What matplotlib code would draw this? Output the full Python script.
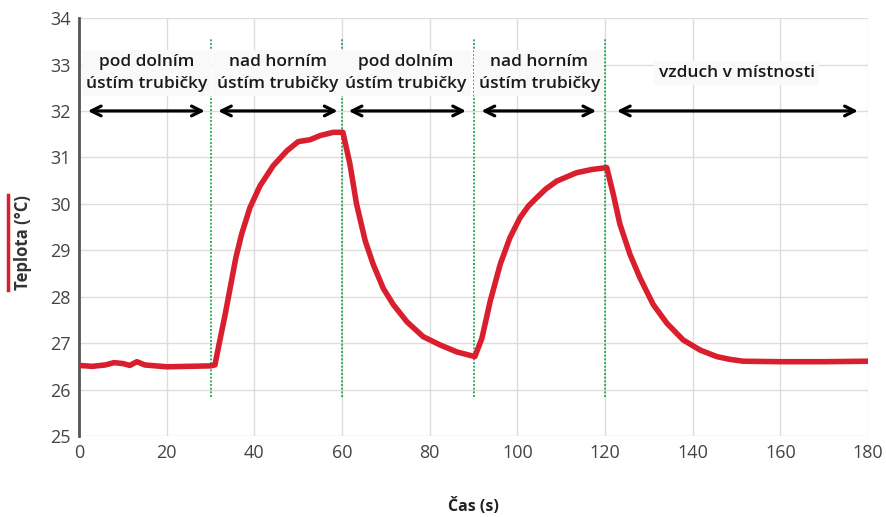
import matplotlib.pyplot as plt
from matplotlib.lines import Line2D

plt.rcParams['font.family'] = ['Open Sans', 'DejaVu Sans']

# readings taken off the original graph
cas = [0, 3, 6, 8, 10, 11.6, 13.2, 15, 20, 25, 30, 31,
       32, 33.3, 34.5, 35.8, 37.1, 39, 41.3, 44.3, 47.4, 50, 52.7, 55, 58, 60.2,
       61.8, 63.3, 65.3, 67.1, 69.4, 71.7, 74.8, 78.5, 82.4, 86.2, 90.3,
       91.9, 93.8, 96.1, 98.3, 100.6, 102.5, 104.4, 106.5, 109, 113.5, 117, 120.4,
       121.9, 123.4, 125.7, 128, 131, 134.1, 137.8, 141.7, 145.5, 148.5, 151.5,
       160, 170, 180]
teplota = [26.52, 26.5, 26.53, 26.58, 26.56, 26.52, 26.6, 26.53, 26.49, 26.5, 26.51, 26.53,
           27.0, 27.6, 28.2, 28.85, 29.35, 29.92, 30.39, 30.82, 31.14, 31.34, 31.38, 31.47, 31.54, 31.54,
           30.86, 30.0, 29.2, 28.7, 28.18, 27.83, 27.46, 27.14, 26.96, 26.81, 26.71,
           27.1, 27.9, 28.7, 29.27, 29.7, 29.95, 30.13, 30.32, 30.49, 30.67, 30.74, 30.78,
           30.2, 29.56, 28.91, 28.4, 27.83, 27.43, 27.07, 26.85, 26.71, 26.65, 26.61,
           26.6, 26.6, 26.61]

hranice = [30, 60, 90, 120]
popisky = ["pod dolním\nústím trubičky",
           "nad horním\nústím trubičky",
           "pod dolním\nústím trubičky",
           "nad horním\nústím trubičky",
           "vzduch v místnosti"]
popisky_x = [15.5, 45.4, 74.6, 105, 150]
sipky = [(2, 28.7), (31.7, 59), (61.5, 88.3), (91.8, 118), (122.7, 177.7)]

fig = plt.figure(figsize=(8.86, 5.17), dpi=100)
ax = fig.add_axes([0.0892, 0.1567, 0.8905, 0.8083])

ax.plot(cas, teplota, color='#d91f2e', linewidth=4, solid_capstyle='round',
        solid_joinstyle='round', zorder=3)
ax.vlines(hranice, 25.84, 33.57, colors='#1aa34a', linestyles=(0, (1.2, 1)), linewidth=1.2, zorder=2)

for i, txt in enumerate(popisky):
    ax.text(popisky_x[i], 32.82, txt, ha='center', va='center', fontsize=12.5,
            fontweight='semibold', color='#1a1a1a', linespacing=1.45,
            bbox=dict(facecolor='#f9f9f9', edgecolor='none', pad=3), zorder=4)
for a, b in sipky:
    ax.annotate('', xy=(b, 32), xytext=(a, 32),
                arrowprops=dict(arrowstyle='<->,head_length=0.7,head_width=0.35',
                                color='black', lw=2.3, shrinkA=0, shrinkB=0), zorder=4)

ax.set_xlim(0, 180)
ax.set_ylim(25, 34)
ax.set_xticks(range(0, 181, 20))
ax.set_yticks(range(25, 35))
ax.grid(True, color='#dddddd', linewidth=1)
ax.set_axisbelow(True)
for s in ['top', 'right', 'bottom']:
    ax.spines[s].set_visible(False)
ax.spines['left'].set_color('#555555')
ax.spines['left'].set_linewidth(2)
ax.tick_params(length=0, labelsize=13, labelcolor='#444444', pad=6)

ax.set_xlabel('Čas (s)', fontsize=11.5, fontweight='bold', color='#222222', labelpad=26)
fig.text(0.026, 0.53, 'Teplota (°C)', rotation=90, ha='center', va='center',
         fontsize=12, fontweight='bold', color='#333333')
fig.add_artist(Line2D([0.009, 0.009], [0.439, 0.623], color='#d91f2e', linewidth=2.5))

fig.savefig('out.png', dpi=100)
